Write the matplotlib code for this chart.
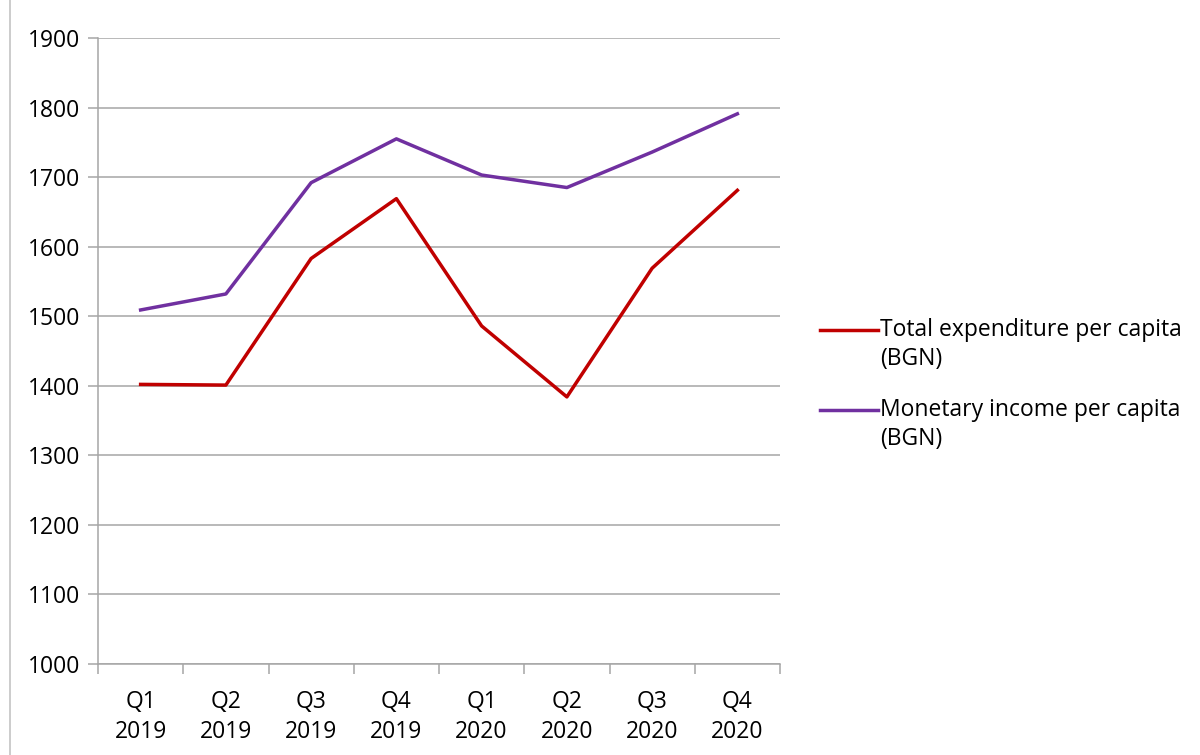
import numpy as np
import matplotlib
matplotlib.use("Agg")
from matplotlib import pyplot as plt
from matplotlib.lines import Line2D

plt.rcParams["font.family"] = ["Open Sans", "DejaVu Sans"]

quarters = ["Q1\n2019", "Q2\n2019", "Q3\n2019", "Q4\n2019",
            "Q1\n2020", "Q2\n2020", "Q3\n2020", "Q4\n2020"]
expenditure = [1402, 1401, 1583, 1669, 1486, 1384, 1569, 1681]
income = [1509, 1532, 1692, 1755, 1703, 1685, 1736, 1791]
series_names = ["Total expenditure per capita\n(BGN)",
                "Monetary income per capita\n(BGN)"]
series_colors = ["#c00000", "#7030a0"]

grid_grey = "#a6a6a6"
fs = 16.5
W, H = 1200, 755

fig = plt.figure(figsize=(W / 100, H / 100), dpi=100)
ax = fig.add_axes([98 / W, 1 - 664 / H, (780 - 98) / W, (664 - 38) / H])

x = np.arange(len(quarters))
for vals, color in zip([expenditure, income], series_colors):
    ax.plot(x, vals, color=color, lw=2.5, solid_joinstyle="round")

ax.set_xlim(-0.5, len(quarters) - 0.5)
ax.set_ylim(1000, 1900)
ax.set_yticks(np.arange(1000, 1901, 100))
ax.yaxis.grid(True, color=grid_grey, lw=1.1)
ax.set_axisbelow(True)

# category labels centred, tick marks on the boundaries
ax.set_xticks(x)
ax.set_xticklabels(quarters, linespacing=1.3)
ax.tick_params(axis="x", which="major", length=0, pad=19, labelsize=fs)
ax.set_xticks(np.arange(-0.5, len(quarters)), minor=True)
ax.tick_params(axis="x", which="minor", length=7, width=1.1, color=grid_grey)
ax.tick_params(axis="y", length=7, width=1.1, color=grid_grey, labelsize=fs, pad=6)

for side in ["top", "right"]:
    ax.spines[side].set_visible(False)
for side in ["left", "bottom"]:
    ax.spines[side].set_color(grid_grey)
    ax.spines[side].set_linewidth(1.1)

# chart area border on the left
fig.add_artist(Line2D([10 / W, 10 / W], [0, 1], color="#bfbfbf", lw=1.1))

# legend: short line next to the first text line of each entry
for i, (name, color) in enumerate(zip(series_names, series_colors)):
    y0 = 330 + i * 80
    fig.add_artist(Line2D([820 / W, 878 / W], [1 - y0 / H, 1 - y0 / H],
                          color=color, lw=2.5))
    fig.text(880 / W, 1 - (y0 - 12) / H, name, fontsize=fs, va="top",
             ha="left", linespacing=1.3)

fig.savefig("out.png", dpi=100)
